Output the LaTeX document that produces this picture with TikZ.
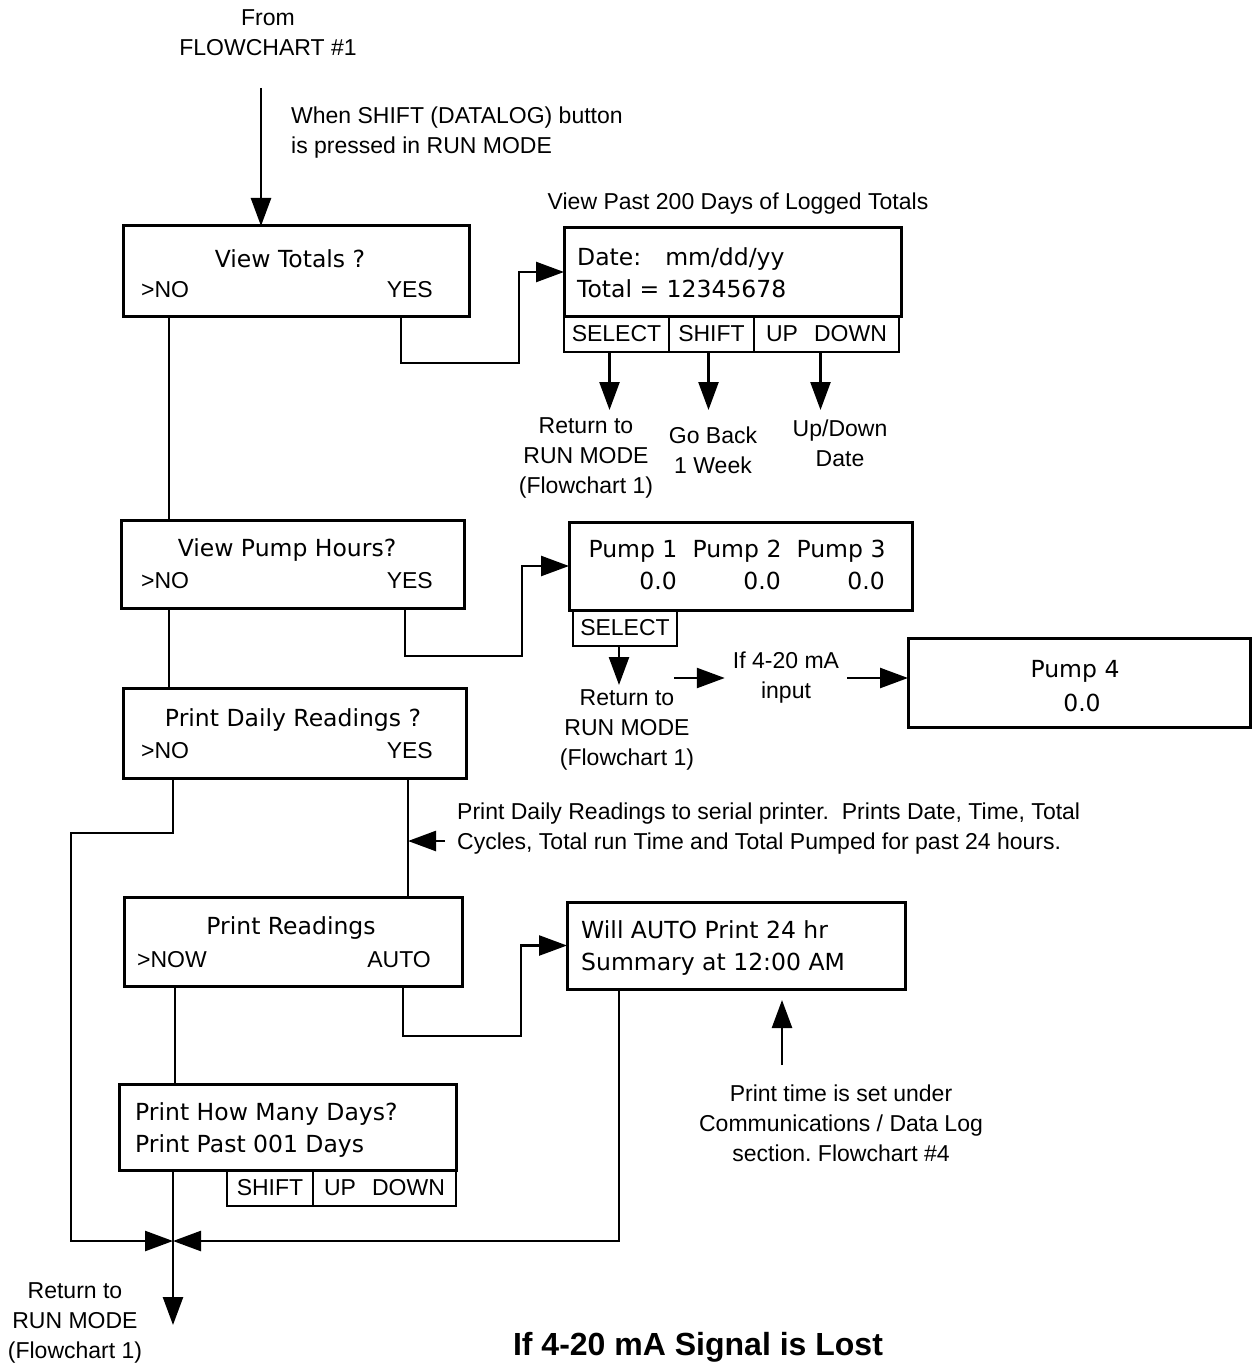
\documentclass[tikz,border=0pt]{standalone}
\usepackage{fontspec}
\setmainfont{Liberation Sans}
\newfontfamily\lcdfamily{DejaVu Sans}
\usetikzlibrary{arrows.meta, positioning}
\newcommand\labsize{\fontsize{23}{30}\selectfont}
\newcommand\lcdsize{\lcdfamily\fontsize{23.5}{30}\selectfont}

\begin{document}
\begin{tikzpicture}[x=1pt, y=-1pt,
  screen/.style={draw, line width=3pt, inner sep=0pt, outer sep=0pt},
  keybox/.style={draw, line width=2.5pt, inner sep=0pt, outer sep=0pt, minimum height=36pt, font=\labsize},
  lcd/.style={inner sep=0pt, font=\lcdsize},
  lab/.style={inner sep=0pt, font=\labsize, align=center},
  wire/.style={line width=2.5pt},
  arr/.style={line width=2.5pt, -{Triangle[length=28pt, width=20pt]}}]
\useasboundingbox (0,0) rectangle (1252,1364);

\node[lab](from) at (268,33) {From\\FLOWCHART \#1};
\node[lab, align=left, anchor=west](shiftnote) at (291,133) {When SHIFT (DATALOG) button\\is pressed in RUN MODE};

% view totals
\node[screen, minimum width=346pt, minimum height=90pt](vtot) at (296,271) {};
\node[lcd](vtott) at (290,259) {View Totals ?};
\node[lab, anchor=mid west](vtotno) at (141,295) {>NO};
\node[lab, anchor=mid east](vtotyes) at (433,295) {YES};

\node[lab](pasthdr) at (738,204) {View Past 200 Days of Logged Totals};
\node[screen, minimum width=337pt, minimum height=88pt](date) at (732.5,272) {};
\node[lcd, anchor=mid west](datet) at (577,263) {Date:\hspace{24pt}mm/dd/yy};
\node[lcd, anchor=mid west](totalt) at (577,295) {Total = 12345678};
\node[keybox, minimum width=105pt, anchor=north west](dsel) at (date.south west) {SELECT};
\node[keybox, minimum width=85pt, right=0pt of dsel](dshf) {SHIFT};
\node[keybox, minimum width=145pt, right=0pt of dshf](dud) {UP\hspace{16pt}DOWN};

\node[lab](ret1) at (586,458) {Return to\\RUN MODE\\(Flowchart 1)};
\node[lab](goback) at (713,450) {Go Back\\1 Week};
\node[lab](updn) at (840,443) {Up/Down\\Date};

% view pump hours
\node[screen, minimum width=343pt, minimum height=88pt](vpump) at (292.5,564) {};
\node[lcd](vpumpt) at (287,550) {View Pump Hours?};
\node[lab, anchor=mid west](vpumpno) at (141,586) {>NO};
\node[lab, anchor=mid east](vpumpyes) at (433,586) {YES};

\node[screen, minimum width=343pt, minimum height=88pt](pumps) at (740.5,566) {};
\foreach \n/\x in {1/633, 2/737, 3/841} {
  \node[lcd](pump\n) at (\x,551) {Pump \n};
  \node[lcd, anchor=mid east](hrs\n) at (\x+44,587) {0.0};
}
\node[keybox, minimum width=104pt, anchor=north west](psel) at ([xshift=4pt]pumps.south west) {SELECT};
\node[lab](ret2) at (627,730) {Return to\\RUN MODE\\(Flowchart 1)};
\node[lab, inner sep=8pt](ifma) at (786,678) {If 4-20 mA\\input};
\node[screen, minimum width=342pt, minimum height=89pt](pump4) at (1079,682.5) {};
\node[lcd](pump4t) at (1075,671) {Pump 4};
\node[lcd](hrs4) at (1082,703) {0.0};

% print daily readings
\node[screen, minimum width=343pt, minimum height=90pt](pdaily) at (294.5,733) {};
\node[lcd](pdailyt) at (293,720) {Print Daily Readings ?};
\node[lab, anchor=mid west](pdailyno) at (141,756) {>NO};
\node[lab, anchor=mid east](pdailyyes) at (433,756) {YES};
\node[lab, align=left, anchor=west](printnote) at (457,829) {Print Daily Readings to serial printer.\ \ Prints Date, Time, Total\\Cycles, Total run Time and Total Pumped for past 24 hours.};

% print readings
\node[screen, minimum width=338pt, minimum height=89pt](preads) at (293,941.5) {};
\node[lcd](preadst) at (291,928) {Print Readings};
\node[lab, anchor=mid west](preadsnow) at (137,965) {>NOW};
\node[lab, anchor=mid east](preadsauto) at (431,965) {AUTO};

\node[screen, minimum width=338pt, minimum height=87pt](auto) at (736,945.5) {};
\node[lcd, anchor=mid west](autot1) at (581,936) {Will AUTO Print 24 hr};
\node[lcd, anchor=mid west](autot2) at (581,968) {Summary at 12:00 AM};
\node[lab](timenote) at (841,1123) {Print time is set under\\Communications / Data Log\\section.\ Flowchart \#4};

% print how many days
\node[screen, minimum width=337pt, minimum height=86pt](pdays) at (287.5,1127) {};
\node[lcd, anchor=mid west](pdayst1) at (135,1118) {Print How Many Days?};
\node[lcd, anchor=mid west](pdayst2) at (135,1150) {Print Past 001 Days};
\node[keybox, minimum width=143pt, anchor=north east](pud) at (pdays.south east) {UP\hspace{16pt}DOWN};
\node[keybox, minimum width=86pt, left=0pt of pud](pshf) {SHIFT};

\node[lab](ret3) at (75,1323) {Return to\\RUN MODE\\(Flowchart 1)};
\node[inner sep=0pt, font=\bfseries\fontsize{32}{36}\selectfont](lost) at (698,1347) {If 4-20 mA Signal is Lost};

\coordinate(entry) at (261,88);
\coordinate(colL) at (169,0);
\coordinate(colY) at (408,0);
\coordinate(colM) at (175,0);
\coordinate(colA) at (619,0);
\coordinate(tipB) at (0,686);
\coordinate(k1) at (401,363);
\coordinate(k2) at (519,363);
\coordinate(k3) at (674,678);
\coordinate(k4) at (405,656);
\coordinate(k5) at (522,656);
\coordinate(k6) at (71,833);
\coordinate(k7) at (445,841);
\coordinate(k8) at (403,1036);
\coordinate(k9) at (521,1036);
\coordinate(k10) at (782,1000);
\coordinate(k11) at (782,1065);
\coordinate(join) at (173,1241);
\coordinate(endp) at (173,1325);

\draw[arr] (entry) -- (entry |- vtot.north);
\draw[wire] (colL |- vtot.south) -- (colL |- vpump.north);
\draw[wire] (colL |- vpump.south) -- (colL |- pdaily.north);
\draw[arr] (k1 |- vtot.south) -- (k1) -- (k2) |- (date.west);
\draw[arr] ([xshift=-7pt]dsel.south) -- ++(0,58);
\draw[arr] ([xshift=-3pt]dshf.south) -- ++(0,58);
\draw[arr] ([xshift=-6pt]dud.south) -- ++(0,58);

\draw[arr] (k4 |- vpump.south) -- (k4) -- (k5) |- (pumps.west);
\draw[arr] ([xshift=-6pt]psel.south) -- ++(0,39);
\draw[arr] (k3) -- (k3 -| ifma.west);
\draw[arr] (ifma.east) -- (ifma.east -| pump4.west);

\draw[arr] (join |- pdaily.south) |- (k6) |- (join);
\draw[wire] (colY |- pdaily.south) -- (colY |- preads.north);
\draw[arr] (k7) -- (k7 -| colY);

\draw[wire] (colM |- preads.south) -- (colM |- pdays.north);
\draw[arr] (k8 |- preads.south) -- (k8) -- (k9) |- (auto.west);
\draw[arr] (colA |- auto.south) |- (join);
\draw[arr] (k11) -- (k10);
\draw[arr] (join |- pdays.south) -- (endp);
\end{tikzpicture}
\end{document}
